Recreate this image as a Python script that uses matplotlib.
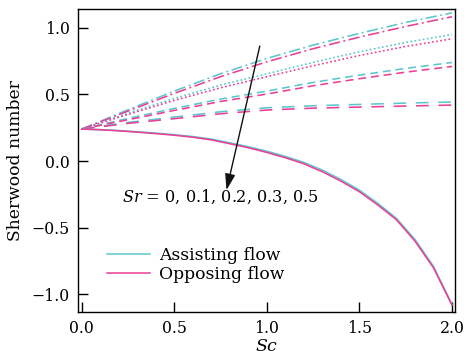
import matplotlib
matplotlib.use("Agg")
import matplotlib.pyplot as plt
from matplotlib.lines import Line2D

plt.rcParams['font.family'] = ['DejaVu Serif']
plt.rcParams['mathtext.fontset'] = 'dejavuserif'

# Sherwood number vs Schmidt number for several Soret numbers
sc_coarse = [0.0, 0.25, 0.5, 0.75, 1.0, 1.25, 1.5, 1.75, 2.0]
sc_fine = [0.0, 0.1, 0.2, 0.3, 0.4, 0.5, 0.6, 0.7, 0.8, 0.9, 1.0,
           1.1, 1.2, 1.3, 1.4, 1.5, 1.6, 1.7, 1.8, 1.9, 2.0]

# Sr = 0 (dash-dot)
sh_sr0_assist = [0.24, 0.385, 0.525, 0.655, 0.77, 0.87, 0.958, 1.04, 1.112]
sh_sr0_oppose = [0.24, 0.375, 0.508, 0.633, 0.745, 0.843, 0.93, 1.01, 1.083]
# Sr = 0.1 (dotted)
sh_sr1_assist = [0.24, 0.36, 0.47, 0.57, 0.655, 0.74, 0.82, 0.89, 0.95]
sh_sr1_oppose = [0.24, 0.35, 0.455, 0.55, 0.633, 0.715, 0.792, 0.86, 0.917]
# Sr = 0.2 (dashed)
sh_sr2_assist = [0.24, 0.32, 0.395, 0.465, 0.525, 0.59, 0.645, 0.695, 0.74]
sh_sr2_oppose = [0.24, 0.31, 0.38, 0.447, 0.503, 0.565, 0.618, 0.667, 0.71]
# Sr = 0.3 (long dashed)
sh_sr3_assist = [0.24, 0.29, 0.33, 0.37, 0.40, 0.415, 0.425, 0.435, 0.443]
sh_sr3_oppose = [0.24, 0.283, 0.318, 0.355, 0.383, 0.397, 0.405, 0.413, 0.42]
# Sr = 0.5 (solid)
sh_sr5_assist = [0.24, 0.236, 0.229, 0.22, 0.21, 0.198, 0.184, 0.165, 0.137, 0.108, 0.074,
                 0.035, -0.01, -0.068, -0.138, -0.218, -0.318, -0.43, -0.588, -0.79, -1.075]
sh_sr5_oppose = [0.24, 0.235, 0.227, 0.217, 0.206, 0.194, 0.179, 0.159, 0.13, 0.1, 0.065,
                 0.025, -0.02, -0.08, -0.15, -0.23, -0.33, -0.44, -0.6, -0.8, -1.08]

cyan = '#5cc6cf'
pink = '#ea3f96'

fig = plt.figure(figsize=(4.69, 3.51), dpi=100)
ax = fig.add_axes([0.1663, 0.112, 0.8037, 0.862])

styles = [(0, (7, 2.2, 1.2, 2.2)), (0, (1.1, 1.5)), (0, (5, 3)), (0, (8, 6))]
assist = [sh_sr0_assist, sh_sr1_assist, sh_sr2_assist, sh_sr3_assist]
oppose = [sh_sr0_oppose, sh_sr1_oppose, sh_sr2_oppose, sh_sr3_oppose]

for ls, a, o in zip(styles, assist, oppose):
    ax.plot(sc_coarse, a, color=cyan, ls=ls, lw=1.15)
    ax.plot(sc_coarse, o, color=pink, ls=ls, lw=1.15)
ax.plot(sc_fine, sh_sr5_assist, color=cyan, ls='-', lw=1.15)
ax.plot(sc_fine, sh_sr5_oppose, color=pink, ls='-', lw=1.15)

# arrow showing increasing Sr
ax.annotate('', xy=(0.782, -0.218), xytext=(0.962, 0.863),
            arrowprops=dict(arrowstyle='-|>,head_length=0.7,head_width=0.22',
                            color='#111111', lw=1.0,
                            mutation_scale=14, shrinkA=0, shrinkB=0))
ax.text(0.215, -0.27, r'$Sr$ = 0, 0.1, 0.2, 0.3, 0.5', fontsize=11.6, va='center')

handles = [Line2D([0], [0], color=cyan, lw=1.1), Line2D([0], [0], color=pink, lw=1.1)]
ax.legend(handles, ['Assisting flow', 'Opposing flow'], loc='upper left',
          bbox_to_anchor=(0.077, 0.215), frameon=False, fontsize=12.3,
          handlelength=2.5, handletextpad=0.55, labelspacing=0.12, borderpad=0,
          borderaxespad=0)

ax.set_xlim(-0.02, 2.016)
ax.set_ylim(-1.13, 1.14)
ax.set_xticks([0.0, 0.5, 1.0, 1.5, 2.0])
ax.set_yticks([-1.0, -0.5, 0.0, 0.5, 1.0])
ax.tick_params(direction='in', length=7, width=1, labelsize=11.3, pad=6,
               top=False, right=False)
ax.set_yticklabels(['\u22121.0', '\u22120.5', '0.0', '0.5', '1.0'])
for s in ax.spines.values():
    s.set_linewidth(1.0)

ax.set_xlabel(r'$Sc$', fontsize=12.5, labelpad=1)
ax.set_ylabel('Sherwood number', fontsize=12.3, labelpad=5)

fig.savefig('out.png', dpi=100)
